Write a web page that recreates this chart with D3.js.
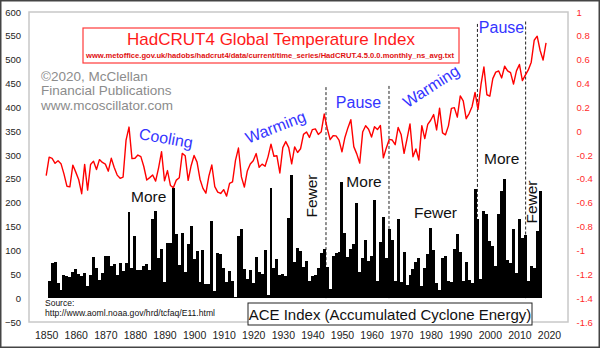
<!DOCTYPE html>
<html>
<head>
<meta charset="utf-8">
<script src="https://cdn.jsdelivr.net/npm/d3@7"></script>
<style>
  html, body { margin: 0; padding: 0; background: #fff; }
  svg { display: block; font-family: "Liberation Sans", Arial, sans-serif; }
</style>
</head>
<body>
<svg id="chart" width="600" height="348"></svg>
<script>
// Atlantic Accumulated Cyclone Energy, one value per season 1851-2017
const aceYears = d3.range(1851, 2018);
const aceValues = [
  36, 73, 76, 31, 18, 49, 46, 45, 55, 62,
  50, 46, 52, 26, 49, 86, 64, 39, 52, 88,
  88, 67, 72, 48, 73, 57, 73, 181, 64, 131,
  59, 59, 67, 72, 58, 166, 182, 85, 104, 33,
  116, 116, 231, 135, 69, 136, 55, 113, 151, 83,
  99, 33, 102, 30, 30, 162, 14, 95, 92, 64,
  34, 57, 36, 3, 130, 144, 61, 40, 58, 31,
  87, 55, 51, 100, 7, 230, 63, 83, 48, 50,
  47, 169, 259, 76, 106, 99, 66, 77, 37, 47,
  49, 64, 94, 104, 66, 19, 88, 95, 96, 243,
  137, 87, 104, 113, 199, 54, 84, 121, 77, 88,
  205, 36, 118, 170, 84, 145, 122, 35, 166, 34,
  97, 28, 48, 61, 76, 84, 25, 63, 93, 147,
  100, 32, 17, 84, 88, 36, 34, 103, 135, 97,
  36, 76, 39, 32, 228, 166, 41, 182, 177, 119,
  110, 67, 176, 225, 250, 79, 74, 146, 53, 165,
  126, 133, 36, 67, 63, 141, 225
];

// HadCRUT4 global annual temperature anomaly (deg C), 1850-2019
const tempYears = d3.range(1850, 2020);
const tempValues = [
  -0.373, -0.218, -0.228, -0.269, -0.248, -0.272, -0.358, -0.461, -0.467, -0.284,
  -0.343, -0.407, -0.524, -0.278, -0.494, -0.279, -0.251, -0.321, -0.238, -0.262,
  -0.276, -0.335, -0.227, -0.304, -0.368, -0.395, -0.384, -0.075, 0.035, -0.230,
  -0.227, -0.200, -0.213, -0.296, -0.409, -0.389, -0.367, -0.418, -0.307, -0.171,
  -0.416, -0.330, -0.455, -0.473, -0.410, -0.390, -0.186, -0.206, -0.412, -0.289,
  -0.203, -0.259, -0.402, -0.479, -0.520, -0.377, -0.283, -0.465, -0.511, -0.522,
  -0.490, -0.544, -0.437, -0.424, -0.244, -0.141, -0.383, -0.468, -0.333, -0.275,
  -0.247, -0.187, -0.302, -0.276, -0.294, -0.215, -0.108, -0.210, -0.206, -0.350,
  -0.137, -0.087, -0.137, -0.273, -0.131, -0.178, -0.147, -0.026, -0.006, -0.052,
  0.014, 0.020, -0.027, -0.004, 0.144, 0.025, -0.071, -0.038, -0.039, -0.074,
  -0.173, -0.052, 0.028, 0.097, -0.129, -0.190, -0.267, -0.007, 0.046, 0.017,
  -0.049, 0.038, 0.014, 0.048, -0.223, -0.140, -0.068, -0.074, -0.113, 0.032,
  -0.027, -0.186, -0.065, 0.062, -0.214, -0.149, -0.241, 0.047, -0.062, 0.057,
  0.092, 0.140, 0.011, 0.194, -0.014, -0.030, 0.045, 0.192, 0.198, 0.118,
  0.296, 0.254, 0.105, 0.148, 0.208, 0.325, 0.183, 0.390, 0.539, 0.306,
  0.294, 0.441, 0.496, 0.505, 0.447, 0.545, 0.506, 0.491, 0.395, 0.506,
  0.560, 0.425, 0.470, 0.514, 0.579, 0.763, 0.797, 0.677, 0.597, 0.741
];

const aceTicks = d3.range(-50, 601, 50);
const tempTicks = [1, 0.8, 0.6, 0.4, 0.2, 0, -0.2, -0.4, -0.6, -0.8, -1, -1.2, -1.4, -1.6];
const yearTicks = d3.range(1850, 2021, 10);

// Regime boundaries (year) and how high each dashed marker reaches (temperature units)
const dividerYears = [1944.6, 1965.9, 1995.8, 2012.1];
const dividerTops = [0.37, 0.38, 0.9, 0.92];

const svg = d3.select("#chart");
const W = 600, H = 348;

const x = d3.scaleLinear().domain([1850, 2020]).range([46.2, 549]);
const yAce = d3.scaleLinear().domain([-50, 600]).range([322, 12]);
const yTemp = d3.scaleLinear().domain([-1.6, 1.0]).range([322, 12]);
const step = x(1851) - x(1850);

// outer frame
svg.append("rect")
  .attr("x", 0.75).attr("y", 0.75)
  .attr("width", W - 1.5).attr("height", H - 1.5)
  .attr("fill", "#fff").attr("stroke", "#444").attr("stroke-width", 1.5);

// plot frame
svg.append("rect")
  .attr("x", 29).attr("y", 12)
  .attr("width", 539).attr("height", 310)
  .attr("fill", "none").attr("stroke", "#c8c8c8").attr("stroke-width", 1.5);

// left axis (ACE)
const axL = svg.append("g")
  .attr("transform", "translate(21,0)")
  .call(d3.axisLeft(yAce).tickValues(aceTicks).tickSize(0).tickPadding(0).tickFormat(d3.format("d")));
axL.select(".domain").remove();
axL.selectAll("text").attr("font-size", 9.5).attr("fill", "#222")
  .attr("font-family", "'Liberation Sans', Arial, sans-serif");

// right axis (temperature)
const axR = svg.append("g")
  .attr("transform", "translate(576.5,0)")
  .call(d3.axisRight(yTemp).tickValues(tempTicks).tickSize(0).tickPadding(0)
    .tickFormat(d => (Math.round(d * 10) / 10).toString()));
axR.select(".domain").remove();
axR.selectAll("text").attr("font-size", 9.5).attr("fill", "#ff2a2a")
  .attr("font-family", "'Liberation Sans', Arial, sans-serif");

// bottom axis (years)
const axB = svg.append("g")
  .attr("transform", "translate(0,332)")
  .call(d3.axisBottom(x).tickValues(yearTicks).tickSize(0).tickPadding(0).tickFormat(d3.format("d")));
axB.select(".domain").remove();
axB.selectAll("text").attr("font-size", 10.5).attr("fill", "#222")
  .attr("font-family", "'Liberation Sans', Arial, sans-serif");

// regime dividers
svg.append("g").selectAll("line")
  .data(dividerYears)
  .join("line")
  .attr("x1", d => x(d)).attr("x2", d => x(d))
  .attr("y1", (d, i) => yTemp(dividerTops[i]))
  .attr("y2", yAce(0))
  .attr("stroke", "#222").attr("stroke-width", 1)
  .attr("stroke-dasharray", "3,2");

// ACE bars
svg.append("g").attr("shape-rendering", "crispEdges")
  .selectAll("rect")
  .data(aceValues)
  .join("rect")
  .attr("x", (d, i) => x(aceYears[i]) - step / 2)
  .attr("width", step)
  .attr("y", d => yAce(d))
  .attr("height", d => yAce(0) - yAce(d))
  .attr("fill", "#000");

// temperature line
svg.append("path")
  .datum(tempValues)
  .attr("d", d3.line().x((d, i) => x(tempYears[i])).y(d => yTemp(d)))
  .attr("fill", "none").attr("stroke", "#ff0000")
  .attr("stroke-width", 1.4).attr("stroke-linejoin", "round");

// title box
svg.append("rect")
  .attr("x", 83).attr("y", 28).attr("width", 376).attr("height", 35)
  .attr("fill", "#fff").attr("stroke", "#ff3a3a").attr("stroke-width", 1.2);
svg.append("text")
  .attr("x", 271).attr("y", 45).attr("text-anchor", "middle")
  .attr("font-size", 17).attr("fill", "#ff1a1a")
  .text("HadCRUT4 Global Temperature Index");
svg.append("text")
  .attr("x", 86).attr("y", 57.5)
  .attr("font-size", 7.6).attr("font-weight", "bold").attr("fill", "#e01010")
  .attr("textLength", 368).attr("lengthAdjust", "spacingAndGlyphs")
  .text("www.metoffice.gov.uk/hadobs/hadcrut4/data/current/time_series/HadCRUT.4.5.0.0.monthly_ns_avg.txt");

// copyright block
const credit = ["\u00A92020, McClellan", "Financial Publications", "www.mcoscillator.com"];
svg.append("g").selectAll("text")
  .data(credit)
  .join("text")
  .attr("x", 41).attr("y", (d, i) => 80.5 + i * 14.7)
  .attr("font-size", 13.5).attr("fill", "#8c8c8c")
  .text(d => d);

// temperature regime labels
const blueLabels = [
  { t: "Cooling", cx: 165, cy: 143.6, r: 10 },
  { t: "Warming", cx: 277.5, cy: 132.3, r: -21 },
  { t: "Pause", cx: 358.5, cy: 108, r: 0 },
  { t: "Warming", cx: 434, cy: 91, r: -33 },
  { t: "Pause", cx: 501.5, cy: 33, r: 0 }
];
svg.append("g").selectAll("text")
  .data(blueLabels)
  .join("text")
  .attr("transform", d => `translate(${d.cx},${d.cy}) rotate(${d.r})`)
  .attr("text-anchor", "middle")
  .attr("font-size", 16).attr("fill", "#3434ff")
  .text(d => d.t);

// hurricane activity labels
const blackLabels = [
  { t: "More", cx: 148.7, cy: 201.7, r: 0 },
  { t: "Fewer", cx: 316.7, cy: 196, r: -90 },
  { t: "More", cx: 364, cy: 187.3, r: 0 },
  { t: "Fewer", cx: 435.5, cy: 217.5, r: 0 },
  { t: "More", cx: 501.7, cy: 164.3, r: 0 },
  { t: "Fewer", cx: 537, cy: 202, r: -90 }
];
svg.append("g").selectAll("text")
  .data(blackLabels)
  .join("text")
  .attr("transform", d => `translate(${d.cx},${d.cy}) rotate(${d.r})`)
  .attr("text-anchor", "middle")
  .attr("font-size", 15.5).attr("fill", "#111")
  .text(d => d.t);

// source note
svg.append("text").attr("x", 45).attr("y", 306)
  .attr("font-size", 8.5).attr("fill", "#111").text("Source:");
svg.append("text").attr("x", 45).attr("y", 316)
  .attr("font-size", 8.5).attr("fill", "#111")
  .attr("textLength", 170).attr("lengthAdjust", "spacingAndGlyphs")
  .text("http://www.aoml.noaa.gov/hrd/tcfaq/E11.html");

// ACE legend box
svg.append("rect")
  .attr("x", 248).attr("y", 303).attr("width", 284).attr("height", 22)
  .attr("fill", "#fff").attr("stroke", "#222").attr("stroke-width", 1);
svg.append("text")
  .attr("x", 390).attr("y", 320).attr("text-anchor", "middle")
  .attr("font-size", 15).attr("fill", "#111")
  .text("ACE Index (Accumulated Cyclone Energy)");
</script>
</body>
</html>
